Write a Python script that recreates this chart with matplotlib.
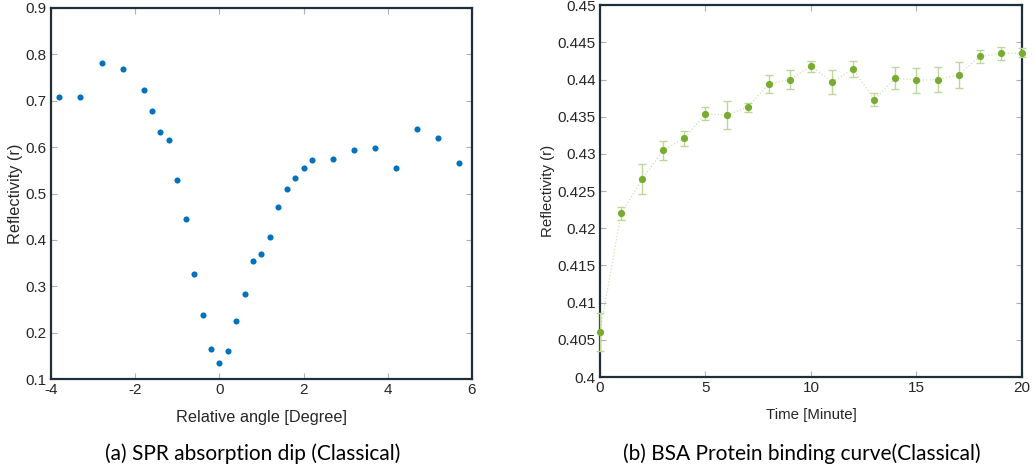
import numpy as np
import matplotlib
matplotlib.use("Agg")
import matplotlib.pyplot as plt

# --- (a) SPR absorption dip ---
angle = [-3.8, -3.3, -2.8, -2.3, -1.8, -1.6, -1.4, -1.2, -1.0, -0.8, -0.6, -0.4,
         -0.2, 0.0, 0.2, 0.4, 0.6, 0.8, 1.0, 1.2, 1.4, 1.6, 1.8, 2.0, 2.2, 2.7,
         3.2, 3.7, 4.2, 4.7, 5.2, 5.7]
refl_a = [0.709, 0.709, 0.782, 0.769, 0.723, 0.678, 0.633, 0.615, 0.529, 0.444,
          0.327, 0.239, 0.164, 0.135, 0.161, 0.225, 0.283, 0.355, 0.369, 0.407,
          0.471, 0.510, 0.534, 0.556, 0.573, 0.575, 0.593, 0.598, 0.555, 0.638,
          0.619, 0.566]

# --- (b) BSA protein binding ---
minutes = list(range(21))
refl_b = [0.4061, 0.4220, 0.4266, 0.4305, 0.4321, 0.4354, 0.4352, 0.4363, 0.4394,
          0.4400, 0.4418, 0.4397, 0.4414, 0.4373, 0.4402, 0.4399, 0.4400, 0.4406,
          0.4431, 0.4435, 0.4436]
err_b = [0.00255, 0.00085, 0.0020, 0.0013, 0.0010, 0.0009, 0.0019, 0.0006, 0.0012,
         0.0013, 0.00075, 0.0016, 0.0011, 0.0009, 0.0015, 0.0017, 0.0017, 0.0017,
         0.0009, 0.0009, 0.0006]

plt.rcParams["font.family"] = ["Liberation Sans", "DejaVu Sans"]
plt.rcParams["axes.unicode_minus"] = False
TXT = "#262626"
SPINE = "#1f2f3a"


def matlab_style(ax, fs):
    for s in ax.spines.values():
        s.set_color(SPINE)
        s.set_linewidth(1.6)
    ax.tick_params(direction="in", top=True, right=True, length=4, width=0.8,
                   color="#b0b0b0", labelcolor=TXT, labelsize=fs, pad=3)


fig = plt.figure(figsize=(10.35, 4.68), dpi=100)

ax1 = fig.add_axes([0.0493, 0.190, 0.4067, 0.793])
ax1.plot(angle, refl_a, "o", color="#0072BD", markersize=4.4, markeredgewidth=0)
ax1.set_xlim(-4, 6)
ax1.set_ylim(0.1, 0.9)
ax1.set_xticks([-4, -2, 0, 2, 4, 6])
ax1.set_yticks(np.arange(0.1, 0.91, 0.1))
ax1.set_yticklabels(["0.1", "0.2", "0.3", "0.4", "0.5", "0.6", "0.7", "0.8", "0.9"])
matlab_style(ax1, 11)
ax1.set_xlabel("Relative angle [Degree]", fontsize=11.7, color=TXT, labelpad=9)
ax1.set_ylabel("Reflectivity (r)", fontsize=11.7, color=TXT, labelpad=2)

ax2 = fig.add_axes([0.5797, 0.1944, 0.4077, 0.7946])
ax2.plot(minutes, refl_b, ":", color="#cfe3b4", linewidth=0.9, zorder=2)
ax2.errorbar(minutes, refl_b, yerr=err_b, fmt="none", ecolor="#bcd79a",
             elinewidth=1, capsize=3, capthick=1, zorder=3, clip_on=False)
ax2.plot(minutes, refl_b, "o", color="#77AC30", markersize=5.2, markeredgewidth=0,
         zorder=4, clip_on=False)
ax2.set_xlim(0, 20)
ax2.set_ylim(0.4, 0.45)
ax2.set_xticks([0, 5, 10, 15, 20])
ax2.set_yticks(np.arange(0.4, 0.4501, 0.005))
ax2.set_yticklabels(["0.4", "0.405", "0.41", "0.415", "0.42", "0.425", "0.43",
                     "0.435", "0.44", "0.445", "0.45"])
matlab_style(ax2, 11)
ax2.set_xlabel("Time [Minute]", fontsize=10.8, color=TXT, labelpad=9)
ax2.set_ylabel("Reflectivity (r)", fontsize=10.8, color=TXT, labelpad=2)

fig.text(0.244, 0.030, "(a) SPR absorption dip (Classical)", ha="center",
         va="center", fontsize=15, family=["Lato", "DejaVu Sans"], color="#000000")
fig.text(0.775, 0.030, "(b) BSA Protein binding curve(Classical)", ha="center",
         va="center", fontsize=15, family=["Lato", "DejaVu Sans"], color="#000000")

fig.savefig("out.png", dpi=100)
